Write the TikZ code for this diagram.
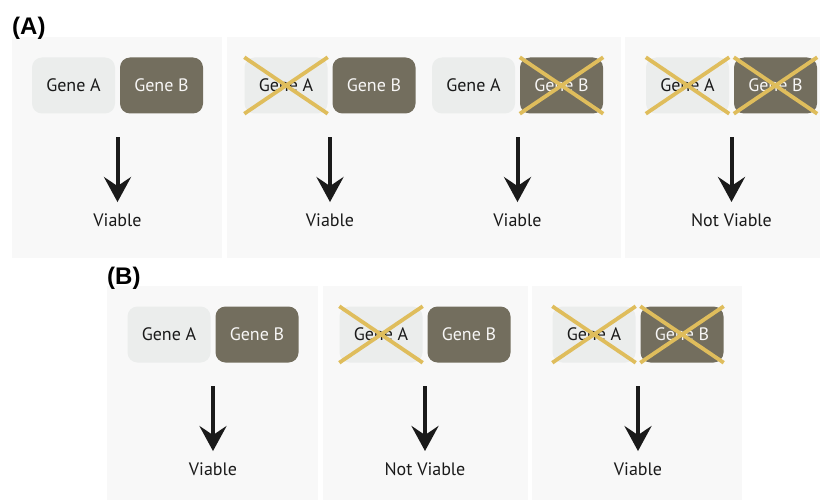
\documentclass[tikz,border=0pt]{standalone}
\usepackage{fontspec}
\setsansfont{PT Sans}
\newfontfamily\tagfont{Liberation Sans}
\usetikzlibrary{positioning,arrows.meta}
\definecolor{ink}{HTML}{1A1A1A}
\definecolor{panel}{HTML}{F8F8F8}
\definecolor{genea}{HTML}{EBEDEC}
\definecolor{geneb}{HTML}{736E5E}
\definecolor{knock}{HTML}{DFBD5C}

\begin{document}
\begin{tikzpicture}[
  x=1pt,y=-1pt,
  font=\sffamily\fontsize{18}{21}\selectfont,
  >={Stealth[length=25pt,width=27pt,inset=9pt]},
  gene/.style={rounded corners=10pt,minimum width=83pt,minimum height=56pt,inner sep=0pt},
  geneA/.style={gene,fill=genea,text=ink},
  geneB/.style={gene,fill=geneb,text=white!94!geneb},
  ko/.style={draw=knock,line width=3.8pt},
  res/.style={anchor=base,inner sep=0pt,text=ink},
  fl/.style={->,draw=ink,line width=4pt,shorten >=11pt},
  tag/.style={font=\tagfont\bfseries\fontsize{24}{28}\selectfont,anchor=base west,inner sep=0pt},
]
\useasboundingbox (0,0) rectangle (824,500);

%---------------------------------------------------------------- panels ---
\foreach \xa/\ya/\xb/\yb in {12/37/222/258, 227/37/621/258, 625/37/820/258,
                             107/286/318/500, 323/286/528/500, 532/286/742/500}{
  \fill[panel] (\xa,\ya) rectangle (\xb,\yb);
}
\node[tag] (tagA) at (12,35) {(A)};
\node[tag] (tagB) at (107,284) {(B)};

%------------------------------------------------------- gene pairs ---
% name / centre x / centre y / A knocked out / B knocked out / outcome
\foreach \nm/\x/\y/\ka/\kb/\res in {
    a1/117.5/85.5/0/0/Viable, a2/330/85.5/1/0/Viable,
    a3/517.5/85.5/0/1/Viable, a4/731.5/85.5/1/1/Not Viable,
    b1/213/334.5/0/0/Viable, b2/425/334.5/1/0/Not Viable,
    b3/638/334.5/1/1/Viable}{
  \node[geneA] (\nm-A) at (\x-44,\y) {Gene A};
  \node[geneB] (\nm-B) at (\x+44,\y) {Gene B};
  \ifnum\ka=1
    \draw[ko] (\nm-A.north west) -- (\nm-A.south east)
              (\nm-A.south west) -- (\nm-A.north east);
  \fi
  \ifnum\kb=1
    \draw[ko] (\nm-B.north west) -- (\nm-B.south east)
              (\nm-B.south west) -- (\nm-B.north east);
  \fi
  \coordinate (\nm-top) at (\x,\y+51.5);
  \node[res] (\nm-res) at (\x,\y+140.5) {\res};
  \draw[fl] (\nm-top) -- (\nm-res.north);
}

\end{tikzpicture}
\end{document}
